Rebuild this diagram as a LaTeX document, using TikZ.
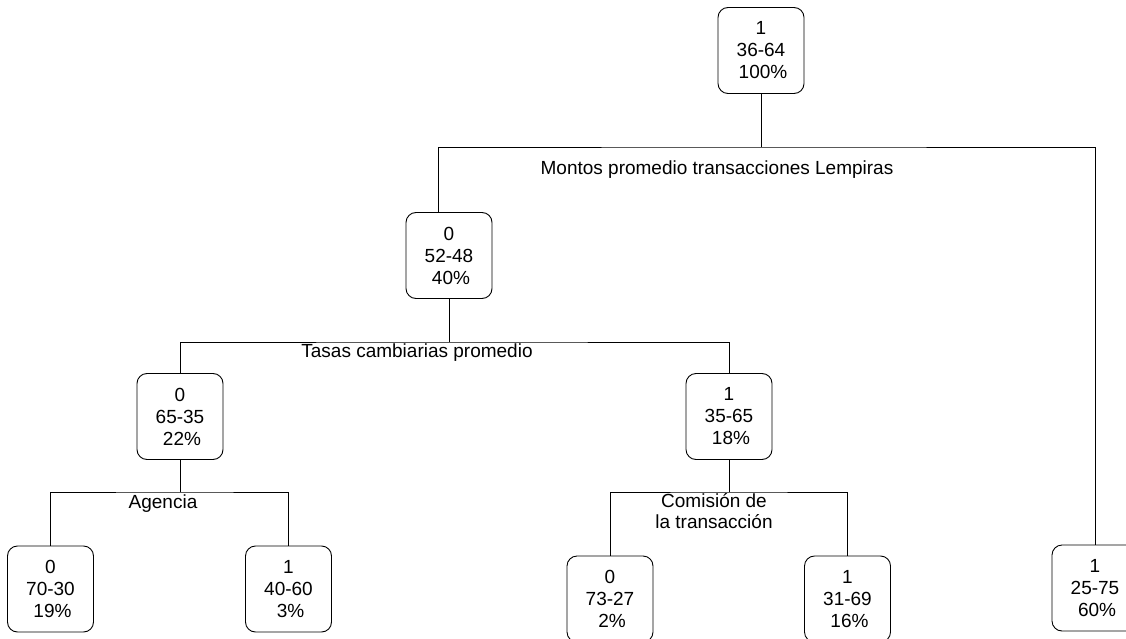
\documentclass[tikz,border=0pt]{standalone}
\usepackage{fontspec}
\setmainfont{Liberation Sans}
\begin{document}
\begin{tikzpicture}[x=1pt,y=1pt,
  treenode/.style={draw, line width=0.9pt, rounded corners=10pt, minimum width=86pt, minimum height=86pt, inner sep=0pt, align=center, font=\fontsize{19}{22}\selectfont},
  conn/.style={draw, line width=0.9pt},
  lbl/.style={font=\fontsize{19}{21}\selectfont, inner sep=0pt, align=center}]
\clip (0,0) rectangle (1126,-639);
\fill[white] (0,0) rectangle (1126,-639);
% nodes
\node[treenode] (A) at (761,-50.5) {1\\36-64\hspace{6pt}\\\hspace{4pt}100\%};
\node[treenode] (B) at (449,-255.5) {0\\52-48\hspace{6pt}\\\hspace{4pt}40\%};
\node[treenode] (H) at (1095,-588) {1\\25-75\hspace{6pt}\\\hspace{4pt}60\%};
\node[treenode] (C) at (180,-416.5) {0\\65-35\hspace{6pt}\\\hspace{4pt}22\%};
\node[treenode] (F) at (729,-416.5) {1\\35-65\hspace{6pt}\\\hspace{4pt}18\%};
\node[treenode] (D) at (50.5,-589) {0\\70-30\hspace{6pt}\\\hspace{4pt}19\%};
\node[treenode] (E) at (288.5,-589) {1\\40-60\hspace{6pt}\\\hspace{4pt}3\%};
\node[treenode] (G1) at (610,-599) {0\\73-27\hspace{6pt}\\\hspace{4pt}2\%};
\node[treenode] (G2) at (847.5,-599) {1\\31-69\hspace{6pt}\\\hspace{4pt}16\%};
% bus coordinates
\coordinate (busA) at (761,-147);
\coordinate (busB) at (449,-342);
\coordinate (busC) at (180,-492);
\coordinate (busF) at (729,-492);
% connectors
\draw[conn] (A.south) -- (busA);
\draw[conn] ([xshift=-11pt]B.north) |- (busA) -| (H.north);
\draw[conn] (B.south) -- (busB);
\draw[conn] (C.north) |- (busB) -| (F.north);
\draw[conn] (C.south) -- (busC);
\draw[conn] (D.north) |- (busC) -| (E.north);
\draw[conn] (F.south) -- (busF);
\draw[conn] (G1.north) |- (busF) -| (G2.north);
% labels
\node[lbl] (lA) at (717,-170) {Montos promedio transacciones Lempiras};
\node[lbl] (lB) at (417,-353) {Tasas cambiarias promedio};
\node[lbl] (lC) at (163,-504) {Agencia};
\node[lbl] (lF) at (714,-511) {Comisión de\\la transacción};
\end{tikzpicture}
\end{document}
